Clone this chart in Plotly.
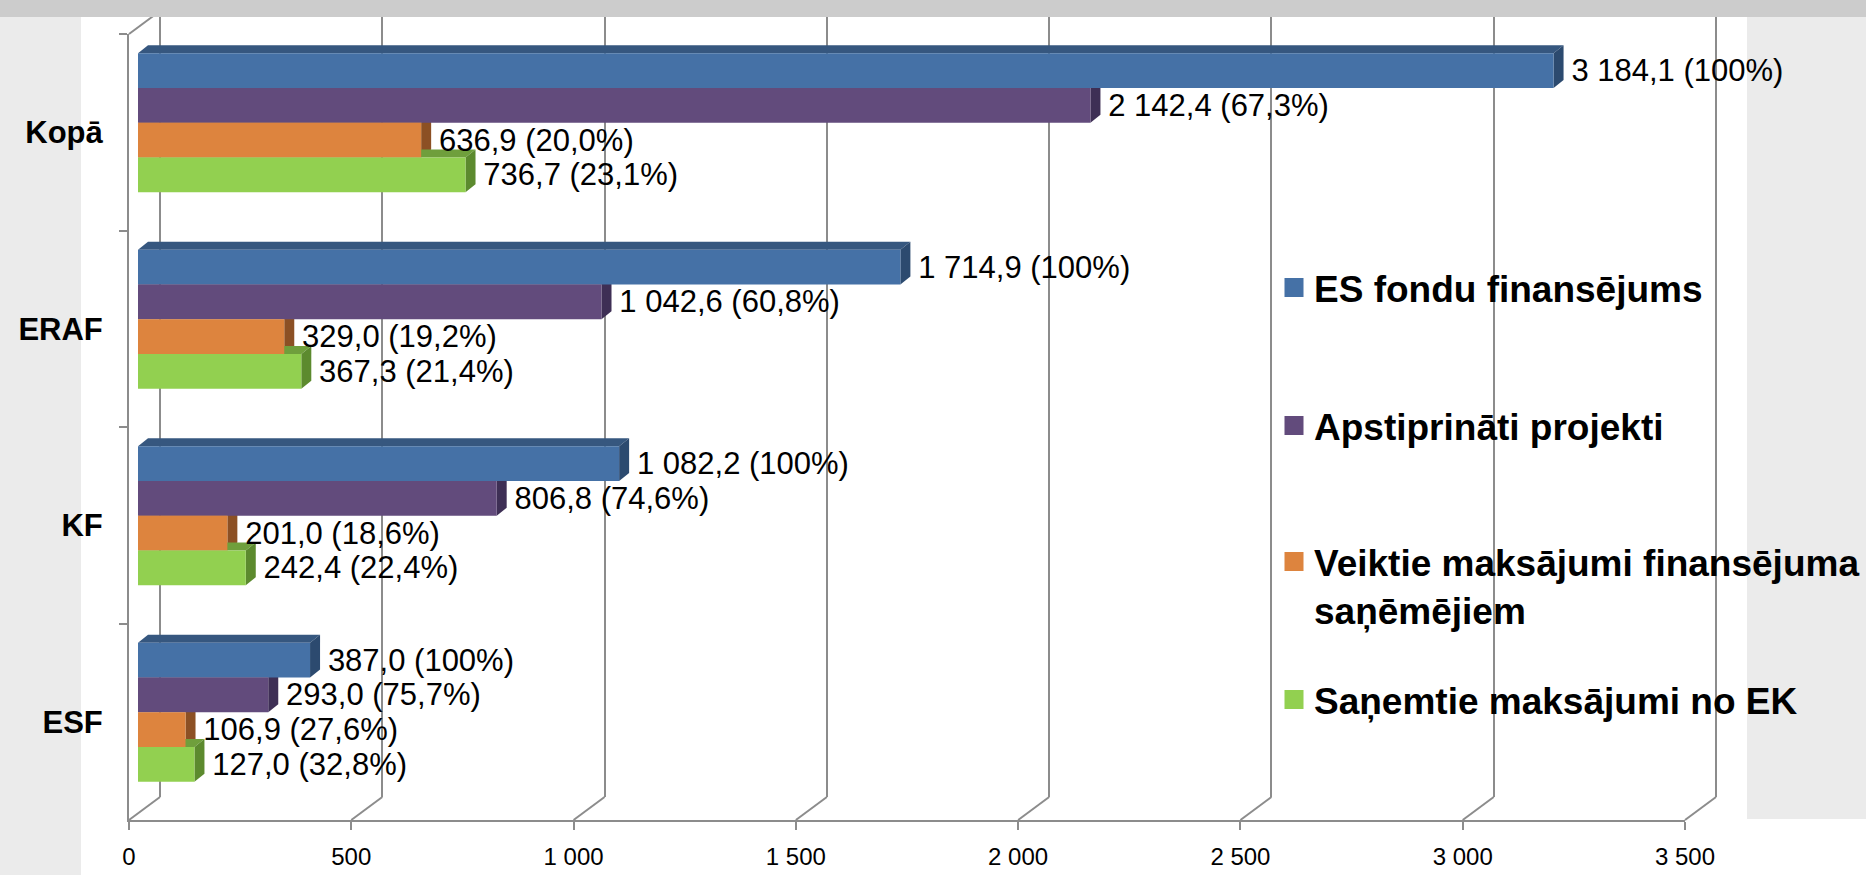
import plotly.graph_objects as go

# data (million EUR)
categories = ["Kopā", "ERAF", "KF", "ESF"]
series_names = [
    "ES fondu finansējums",
    "Apstiprināti projekti",
    "Veiktie maksājumi finansējuma<br>saņēmējiem",
    "Saņemtie maksājumi no EK",
]
es_funding = [3184.1, 1714.9, 1082.2, 387.0]
approved = [2142.4, 1042.6, 806.8, 293.0]
paid_out = [636.9, 329.0, 201.0, 106.9]
received_ek = [736.7, 367.3, 242.4, 127.0]
series_values = [es_funding, approved, paid_out, received_ek]

es_pct = [100, 100, 100, 100]
approved_pct = [67.3, 60.8, 74.6, 75.7]
paid_pct = [20.0, 19.2, 18.6, 27.6]
received_pct = [23.1, 21.4, 22.4, 32.8]
series_pct = [es_pct, approved_pct, paid_pct, received_pct]

x_ticks = [0, 500, 1000, 1500, 2000, 2500, 3000, 3500]

front_colors = ["#4571a6", "#624b7c", "#dd843e", "#92d050"]
top_colors = ["#36577f", "#4d3b63", "#b0652c", "#6f9f3c"]
side_colors = ["#2c4a6f", "#3e2f55", "#8c5024", "#5c8a2e"]

W, H = 1866, 875
XMAX = 3500
FRONT_X0, FRONT_X1 = 129, 1685      # front plane (axis + labels)
FRONT_Y0, FRONT_Y1 = 34, 820
BAR_DX, BAR_DY = 9, -9.5            # bars sit a bit deeper
BACK_DX, BACK_DY = 31, -23          # back wall offset
FACE_DX, FACE_DY = 10, 8            # 3d depth of the bars
BARGAP = 0.293
GRID = "#8c8c8c"
FONT = "Arial, Liberation Sans, sans-serif"

k = (FRONT_X1 - FRONT_X0) / XMAX    # px per unit
band = (FRONT_Y1 - FRONT_Y0) / len(categories)


def xdom(a, b):
    return [a / W, b / W]


def ydom(top, bottom):
    return [1 - bottom / H, 1 - top / H]


def fmt(v):
    return f"{v:,.1f}".replace(",", " ").replace(".", ",")


def fmt_pct(p):
    if p == 100:
        return "100%"
    return f"{p:.1f}%".replace(".", ",")


fig = go.Figure()

# back wall grid (first subplot -> drawn underneath everything)
pad = 6
fig.add_trace(go.Scatter(x=[None], y=[None], xaxis="x", yaxis="y",
                         showlegend=False, hoverinfo="skip"))

# front frame with category labels
fig.add_trace(go.Scatter(x=[0] * len(categories), y=categories, xaxis="x2", yaxis="y2",
                         mode="markers", marker=dict(opacity=0), showlegend=False,
                         hoverinfo="skip"))

# bars
for s, name in enumerate(series_names):
    labels = ["\u00a0\u2009" + fmt(v) + " (" + fmt_pct(p) + ")"
              for v, p in zip(series_values[s], series_pct[s])]
    fig.add_trace(go.Bar(
        x=series_values[s], y=categories, orientation="h",
        xaxis="x3", yaxis="y3",
        marker=dict(color=front_colors[s], line=dict(width=0)),
        text=labels, textposition="outside", constraintext="none",
        cliponaxis=False,
        textfont=dict(family=FONT, size=31, color="black"),
        name=name, showlegend=False,
    ))

# legend entries (one legend each, to place them like the original)
legend_tops = [257, 395, 531, 669]
for s, name in enumerate(series_names):
    lg = "legend" if s == 0 else f"legend{s + 1}"
    fig.add_trace(go.Scatter(
        x=[None], y=[None], xaxis="x3", yaxis="y3", mode="markers",
        marker=dict(symbol="square", size=16, color=front_colors[s],
                    line=dict(color=front_colors[s], width=3)),
        name=name, legend=lg, showlegend=True,
    ))

# 3d faces of the bars (top and right side)
w = (1 - BARGAP) / len(series_names)
dxd = FACE_DX / k
dyd = FACE_DY / band
shapes = []
for s in range(len(series_names)):
    for i, v in enumerate(series_values[s]):
        top = i - (1 - BARGAP) / 2 + s * w
        bot = top + w
        shapes.append(dict(
            type="path", xref="x3", yref="y3", layer="below",
            path=f"M0,{top} L{dxd},{top - dyd} L{v + dxd},{top - dyd} L{v},{top} Z",
            fillcolor=top_colors[s], line=dict(width=0),
        ))
        shapes.append(dict(
            type="path", xref="x3", yref="y3", layer="below",
            path=f"M{v},{top} L{v + dxd},{top - dyd} L{v + dxd},{bot - dyd} L{v},{bot} Z",
            fillcolor=side_colors[s], line=dict(width=0),
        ))

# floor diagonals from front ticks to back wall
for v in x_ticks:
    fx = FRONT_X0 + v * k
    shapes.append(dict(
        type="line", xref="paper", yref="paper", layer="below",
        x0=fx / W, y0=1 - FRONT_Y1 / H,
        x1=(fx + BACK_DX) / W, y1=1 - (FRONT_Y1 + BACK_DY) / H,
        line=dict(color=GRID, width=2),
    ))
# left wall top edge
shapes.append(dict(
    type="line", xref="paper", yref="paper", layer="below",
    x0=FRONT_X0 / W, y0=1 - FRONT_Y0 / H,
    x1=(FRONT_X0 + BACK_DX) / W, y1=1 - (FRONT_Y0 + BACK_DY) / H,
    line=dict(color=GRID, width=2),
))

# background panels
shapes.insert(0, dict(type="rect", xref="paper", yref="paper", layer="below",
                      x0=0, x1=81 / W, y0=0, y1=1 - 17 / H,
                      fillcolor="#ebebeb", line=dict(width=0)))
shapes.insert(0, dict(type="rect", xref="paper", yref="paper", layer="below",
                      x0=1747 / W, x1=1, y0=1 - 819 / H, y1=1 - 17 / H,
                      fillcolor="#ebebeb", line=dict(width=0)))
shapes.append(dict(type="rect", xref="paper", yref="paper", layer="above",
                   x0=0, x1=1, y0=1 - 17 / H, y1=1,
                   fillcolor="#cccccc", line=dict(width=0)))

layout = dict(
    width=W, height=H, autosize=False,
    margin=dict(l=0, r=0, t=0, b=0, autoexpand=False),
    paper_bgcolor="white",
    plot_bgcolor="rgba(0,0,0,0)",
    separators=", ",
    barmode="group", bargap=BARGAP, bargroupgap=0,
    font=dict(family=FONT, color="black"),
    shapes=shapes,
    # back wall
    xaxis=dict(domain=xdom(FRONT_X0 + BACK_DX - pad, FRONT_X1 + BACK_DX + pad),
               range=[-pad / k, XMAX + pad / k], tickvals=x_ticks,
               showgrid=True, gridcolor=GRID, gridwidth=2, zeroline=False,
               showticklabels=False, ticks="", showline=False, fixedrange=True,
               automargin=False, anchor="y"),
    yaxis=dict(domain=ydom(FRONT_Y0 + BACK_DY, FRONT_Y1 + BACK_DY), visible=False,
               range=[0, 1], anchor="x", fixedrange=True, automargin=False),
    # front frame
    xaxis2=dict(domain=xdom(FRONT_X0, FRONT_X1), range=[0, XMAX], tickvals=x_ticks,
                tickformat=",", showgrid=False, zeroline=False, showline=True,
                linecolor=GRID, linewidth=2, ticks="outside", ticklen=8, tickwidth=2,
                tickcolor=GRID, tickfont=dict(family=FONT, size=24, color="black"),
                ticklabelstandoff=6, anchor="y2", fixedrange=True, automargin=False),
    yaxis2=dict(domain=ydom(FRONT_Y0, FRONT_Y1), type="category",
                categoryorder="array", categoryarray=categories,
                range=[len(categories) - 0.5, -0.5], tickson="boundaries",
                showgrid=False, zeroline=False, showline=True, linecolor=GRID,
                linewidth=2, ticks="outside", ticklen=8, tickwidth=2, tickcolor=GRID,
                tickfont=dict(family=FONT, size=31, color="black", weight="bold"),
                ticklabelstandoff=18, anchor="x2", fixedrange=True, automargin=False),
    # bars plane
    xaxis3=dict(domain=xdom(FRONT_X0 + BAR_DX, FRONT_X1 + BAR_DX), range=[0, XMAX],
                visible=False, anchor="y3", fixedrange=True, automargin=False),
    yaxis3=dict(domain=ydom(FRONT_Y0 + BAR_DY, FRONT_Y1 + BAR_DY), type="category",
                categoryorder="array", categoryarray=categories,
                range=[len(categories) - 0.5, -0.5], visible=False, anchor="x3",
                fixedrange=True, automargin=False),
)

for s in range(len(series_names)):
    key = "legend" if s == 0 else f"legend{s + 1}"
    layout[key] = dict(
        x=1274 / W, xanchor="left", y=1 - legend_tops[s] / H, yanchor="top",
        bgcolor="rgba(0,0,0,0)", borderwidth=0,
        font=dict(family=FONT, size=37, color="black", weight="bold"),
        valign="top", itemsizing="trace",
    )

fig.update_layout(**layout)
fig.write_html(
    "out.html",
    config={"responsive": False, "displayModeBar": False},
    post_script="document.body.style.margin='0';document.body.style.overflow='hidden';",
)
